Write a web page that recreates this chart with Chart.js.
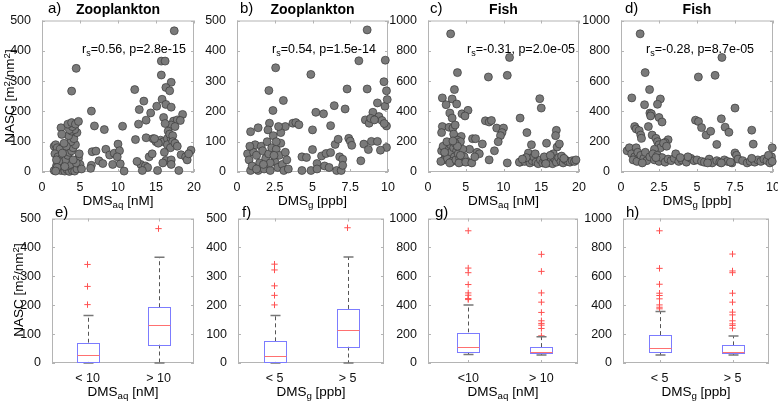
<!DOCTYPE html>
<html>
<head>
<meta charset="utf-8">
<script src="https://cdn.jsdelivr.net/npm/chart.js@4.4.1/dist/chart.umd.min.js"></script>
<style>
  body { margin: 0; background: #fff; width: 778px; height: 406px; position: relative; overflow: hidden;
         font-family: "Liberation Sans", Arial, Helvetica, sans-serif; color: #000; }
  canvas { position: absolute; }
  .t { position: absolute; white-space: nowrap; line-height: 1; }
  .sub { font-size: 0.72em; position: relative; top: 0.32em; }
  .sup { font-size: 0.72em; position: relative; top: -0.45em; }
</style>
</head>
<body>
<script>
// ---- data ----
// a) Zooplankton NASC vs DMSaq [nM]
const zoopAq = [
  [1.6,85],[1.8,90],[2.0,80],[2.4,75],[1.7,60],[2.1,50],[2.6,45],[2.8,30],[1.9,20],[2.2,10],[2.5,5],[1.6,5],
  [3.0,3],[3.3,8],[3.6,2],[4.0,5],[4.3,3],[4.6,10],[3.4,20],[3.7,25],[3.1,40],[3.4,55],[3.6,65],[3.9,70],
  [4.1,80],[4.4,90],[3.8,100],[4.2,110],[4.6,130],[3.5,120],[3.9,135],[4.3,140],[3.2,85],[2.9,95],[4.8,45],
  [5.0,25],[4.9,60],[3.6,140],[4.0,150],[2.2,35],[1.9,40],[4.5,30],[5.2,10],[2.5,146],[2.6,124],[3.4,158],
  [3.9,163],[4.4,158],[4.8,167],[4.5,342],[3.9,267],[2.0,15],[2.7,62],[3.0,18],[4.1,40],[1.8,3],
  [6.5,201],[6.6,67],[7.1,69],[6.9,152],[8.2,140],[7.5,37],[8.0,28],[8.4,75],[8.9,56],[9.3,25],[9.5,62],
  [10.0,92],[10.6,151],[10.2,70],[10.3,27],[10.8,3],[6.5,22],[6.4,12],[9.9,50],
  [12.3,107],[13.7,113],[14.6,110],[15.0,100],[15.6,105],[16.0,100],[16.5,110],[17.0,110],[13.4,234],
  [12.8,206],[12.2,272],[12.7,158],[13.7,171],[14.3,195],[15.1,217],[15.8,240],[15.7,320],[15.7,366],
  [16.2,366],[17.0,296],[16.3,279],[16.8,268],[16.3,223],[17.0,214],[16.0,180],[18.5,190],[17.3,168],
  [17.8,172],[18.2,170],[17.0,155],[17.5,150],[16.6,135],[16.2,160],[16.8,125],[17.2,120],[16.5,90],
  [17.2,100],[16.9,80],[17.5,95],[14.1,50],[18.3,57],[19.6,72],[18.9,50],[19.1,40],[16.3,38],[17.0,40],
  [13.0,25],[13.6,20],[13.9,15],[17.0,25],[15.2,5],[18.0,5],[13.2,5],[14.5,60],[15.3,95],[16.1,65],
  [17.8,85],[19.3,60],[12.5,35],[15.9,30],[14.8,110],[17.4,466]
];
// b) Zooplankton NASC vs DMSg [ppb]
const zoopG = [
  [8.62,469],[2.56,344],[4.89,322],[8.07,367],[9.82,369],[2.11,269],[7.29,274],[8.62,274],[9.73,298],
  [3.07,236],[9.9,268],[9.8,217],[9.95,239],[6.44,219],[7.16,208],[2.38,203],[5.22,197],[5.73,192],
  [9.3,228],[9.0,197],[9.4,183],[9.6,170],[9.9,152],[9.75,160],[8.5,172],[8.75,161],[8.85,177],[9.1,172],
  [2.15,161],[2.05,139],[3.2,150],[1.4,146],[0.9,133],[3.7,161],[3.9,163],[4.1,156],[5.0,139],[6.2,153],
  [6.5,91],[6.7,108],[7.4,111],[7.5,102],[7.6,88],[8.2,37],[8.4,92],[8.7,74],[8.9,101],[9.3,101],[9.9,81],
  [9.5,72],[4.3,50],[4.6,48],[5.0,74],[5.3,28],[5.6,53],[5.9,61],[6.2,64],[6.8,50],[7.0,42],[4.3,5],
  [4.9,5],[5.3,10],[5.8,20],[6.1,15],[6.6,5],[6.9,5],[7.0,22],
  [0.7,60],[0.8,40],[0.9,5],[1.0,20],[1.1,65],[1.2,90],[1.3,55],[1.4,5],[1.5,30],[1.6,85],[1.7,70],
  [1.8,10],[1.9,45],[2.0,100],[2.1,60],[2.2,5],[2.3,80],[2.4,120],[2.5,35],[2.6,75],[2.7,15],[2.8,55],
  [2.9,95],[3.0,25],[3.1,5],[3.2,65],[3.3,40],[2.2,30],[1.3,10],[2.6,100],[1.75,25],[3.4,10],[2.45,55],
  [0.85,85],[2.9,130],[2.75,150]
];
// c) Fish NASC vs DMSaq [nM]
const fishAq = [
  [3.0,912],[10.8,756],[3.9,656],[8.0,627],[10.5,638],[3.5,544],[1.9,489],[3.2,482],[2.4,444],[3.8,449],
  [14.8,484],[15.0,422],[2.9,389],[4.5,384],[5.3,407],[4.9,370],[3.2,356],[12.2,356],[7.6,338],[8.1,330],
  [8.4,340],[9.1,290],[10.0,290],[9.8,260],[9.6,240],[9.3,200],[8.8,140],[1.9,300],[2.8,295],[3.3,290],
  [3.6,310],[3.4,250],[1.8,260],[4.4,235],[3.9,210],[4.3,200],[5.9,220],[6.3,220],[7.2,185],[6.5,130],
  [6.8,120],[5.5,150],[5.2,70],[8.1,80],[10.5,60],[13.1,260],[13.7,180],[12.2,65],[13.3,125],[15.7,190],
  [17.0,275],[16.9,240],[17.1,165],[17.4,185],[16.6,120],
  [1.8,140],[2.0,170],[2.3,110],[2.1,80],[1.7,70],[2.6,90],[2.8,150],[3.0,180],[3.1,130],[3.4,160],
  [3.6,190],[3.8,140],[3.5,100],[3.2,70],[2.9,60],[3.7,80],[4.0,120],[4.2,90],[4.5,70],[4.1,60],[4.8,100],
  [4.6,150],[3.9,170],[2.5,200],[2.2,130],[4.3,110],[3.3,205],[5.0,65],[5.8,60],[6.2,100],
  [12.1,65],[12.8,70],[13.2,90],[13.5,60],[13.8,75],[14.0,100],[14.3,65],[14.6,55],[14.9,80],[15.2,60],
  [15.5,70],[15.8,90],[16.0,60],[16.3,75],[16.5,55],[16.8,85],[17.0,65],[17.3,95],[17.6,70],[17.9,60],
  [18.2,80],[18.5,70],[18.8,65],[19.1,75],[19.4,70],[15.4,100],[14.2,120],[16.2,110],[17.7,105],[13.0,95],
  [15.6,55],[18.0,90],[19.6,80],[12.5,85]
];
// d) Fish NASC vs DMSg [ppb]
const fishG = [
  [1.26,912],[6.64,756],[1.59,656],[5.09,627],[6.19,638],[1.88,544],[0.71,489],[2.59,482],[1.55,444],
  [2.4,447],[7.5,422],[1.9,389],[2.0,384],[1.95,370],[2.5,360],[2.7,330],[4.9,342],[5.1,333],[5.3,293],
  [5.6,244],[5.9,269],[6.6,351],[6.85,296],[7.1,262],[6.3,182],[7.5,126],[7.6,110],[8.6,276],[8.7,184],
  [9.95,160],[0.9,300],[1.0,284],[1.2,273],[1.3,244],[1.35,222],[1.8,300],[2.05,244],[2.3,222],[3.1,213],
  [2.9,195],[2.4,200],[2.5,180],[2.6,160],[2.8,190],[3.0,170],[2.2,150],
  [0.4,140],[0.55,160],[0.7,120],[0.9,100],[1.0,160],[1.1,130],[0.8,80],[1.05,70],[1.3,110],[1.5,90],
  [1.6,130],[1.7,75],[1.9,100],[2.1,120],[2.2,80],[2.4,110],[2.5,70],[2.7,95],[2.9,65],[3.1,85],[3.3,75],
  [3.5,90],[3.8,70],[4.0,80],[4.3,65],[4.6,90],[4.8,75],[3.6,120],[2.3,95],[1.4,60],
  [5.0,80],[5.3,70],[5.5,65],[5.8,85],[6.0,60],[6.3,75],[6.5,65],[6.8,80],[7.0,70],[7.3,60],[7.7,85],
  [8.0,75],[8.3,60],[8.5,70],[8.8,65],[9.0,80],[9.2,70],[9.4,85],[9.6,75],[9.8,60],[9.9,100],[8.6,90],
  [9.7,110],[7.2,65],[5.7,60],[6.6,60],[4.4,100],[3.9,95],[9.95,70]
];

// box plots: [lower whisker, q1, median, q3, upper whisker] per group
const boxE = [[0, 4, 27, 70, 164], [0, 64, 131, 193, 366]];
const boxF = [[0, 4, 25, 75, 164], [0, 57, 114, 187, 367]];
const boxG = [[59, 76, 108, 211, 402], [55, 67, 76, 110, 181]];
const boxH = [[55, 76, 106, 193, 356], [55, 69, 76, 122, 186]];
// outliers per group
const outE = [[341, 265, 202], [465]];
const outF = [[342, 322, 267, 234, 201], [468]];
const outG = [[915, 657, 625, 543, 485, 469, 446, 439], [752, 634, 485, 421, 350, 292, 274, 262, 239, 188]];
const outH = [[915, 655, 545, 483, 467, 444, 402, 386, 375], [754, 637, 625, 483, 421, 352, 333, 292, 271, 260, 241]];

const labelsAq = ['< 10', '> 10'];
const labelsAqG = ['<10', '> 10'];
const labelsG = ['< 5', '> 5'];
const ticksX20 = [0, 5, 10, 15, 20];
const ticksX10 = [0, 2.5, 5, 7.5, 10];

// ---- drawing ----
const FONT = '"Liberation Sans", Arial, Helvetica, sans-serif';
const AXIS = '#b4b4b4';
const Lm = 42, Tm = 10, Rm = 12, Bm = 24;

const frame = {
  id: 'frame',
  beforeDatasetsDraw(chart) {
    const { ctx, chartArea: a, scales } = chart;
    ctx.save();
    ctx.strokeStyle = AXIS;
    ctx.lineWidth = 1;
    ctx.strokeRect(a.left + 0.5, a.top + 0.5, a.right - a.left - 1, a.bottom - a.top - 1);
    ctx.beginPath();
    scales.x.ticks.forEach(t => {
      const x = Math.round(scales.x.getPixelForValue(t.value)) + 0.5;
      ctx.moveTo(x, a.bottom); ctx.lineTo(x, a.bottom - 3);
      ctx.moveTo(x, a.top); ctx.lineTo(x, a.top + 3);
    });
    scales.y.ticks.forEach(t => {
      const y = Math.round(scales.y.getPixelForValue(t.value)) + 0.5;
      ctx.moveTo(a.left, y); ctx.lineTo(a.left + 3, y);
      ctx.moveTo(a.right, y); ctx.lineTo(a.right - 3, y);
    });
    ctx.stroke();
    ctx.restore();
  }
};

const boxDraw = {
  id: 'boxDraw',
  afterDatasetsDraw(chart, args, opts) {
    if (!opts.boxes) return;
    const { ctx, scales: { x, y } } = chart;
    ctx.save();
    opts.boxes.forEach((b, i) => {
      const cx = Math.round(x.getPixelForValue(i + 1)) + 0.5;
      const [lo, q1, med, q3, hi] = b.map(v => y.getPixelForValue(v));
      const hw = 11, cw = 5;
      // whiskers
      ctx.strokeStyle = '#555';
      ctx.lineWidth = 1;
      ctx.setLineDash([4, 3]);
      ctx.beginPath();
      ctx.moveTo(cx, q3); ctx.lineTo(cx, hi);
      ctx.moveTo(cx, q1); ctx.lineTo(cx, lo);
      ctx.stroke();
      ctx.setLineDash([]);
      ctx.strokeStyle = '#777';
      ctx.lineWidth = 1.5;
      ctx.beginPath();
      ctx.moveTo(cx - cw, hi); ctx.lineTo(cx + cw, hi);
      ctx.moveTo(cx - cw, lo); ctx.lineTo(cx + cw, lo);
      ctx.stroke();
      // box
      ctx.lineWidth = 1;
      ctx.fillStyle = '#fff';
      ctx.fillRect(cx - hw, q3, 2 * hw, q1 - q3);
      ctx.strokeStyle = '#7c7cff';
      ctx.strokeRect(cx - hw, Math.round(q3) + 0.5, 2 * hw, Math.round(q1) - Math.round(q3));
      // median
      ctx.strokeStyle = '#ff7070';
      ctx.beginPath();
      ctx.moveTo(cx - hw, Math.round(med) + 0.5); ctx.lineTo(cx + hw, Math.round(med) + 0.5);
      ctx.stroke();
    });
    ctx.restore();
  }
};

function addText(html, x, base, size, opt = {}) {
  const d = document.createElement('div');
  d.className = 't';
  d.innerHTML = html;
  d.style.fontSize = size + 'px';
  d.style.left = x + 'px';
  d.style.top = (base - 0.8465 * size) + 'px';
  if (opt.bold) d.style.fontWeight = 'bold';
  if (opt.center) d.style.transform = 'translateX(-50%)';
  if (opt.rotate) {
    d.style.top = base + 'px';
    d.style.transform = 'translate(-50%,-50%) rotate(-90deg)';
  }
  document.body.appendChild(d);
}

function makePanel(p) {
  const c = document.createElement('canvas');
  const w = p.r - p.l + Lm + Rm, h = p.b - p.t + Tm + Bm;
  c.width = w; c.height = h;
  c.style.width = w + 'px'; c.style.height = h + 'px';
  c.style.left = (p.l - Lm) + 'px'; c.style.top = (p.t - Tm) + 'px';
  document.body.appendChild(c);

  const tickFont = { family: FONT, size: 12.5 };
  const datasets = [];
  if (p.points) {
    datasets.push({
      data: p.points.map(([x, y]) => ({ x, y })),
      pointRadius: 4, pointBackgroundColor: '#7a7a7a', pointBorderColor: '#3a3a3a',
      pointBorderWidth: 0.7, clip: false
    });
  }
  if (p.outliers) {
    datasets.push({
      data: p.outliers.flatMap((g, i) => g.map(v => ({ x: i + 1, y: v }))),
      pointStyle: 'cross', pointRadius: 3.2, borderColor: '#ff5050', pointBorderWidth: 1, clip: false
    });
  }

  new Chart(c, {
    type: 'scatter',
    data: { datasets },
    options: {
      responsive: false, animation: false, devicePixelRatio: 1,
      layout: { padding: { top: Tm, right: Rm, left: 0, bottom: 0 } },
      plugins: { legend: { display: false }, tooltip: { enabled: false }, boxDraw: { boxes: p.boxes } },
      scales: {
        x: {
          type: 'linear', min: p.xmin, max: p.xmax,
          afterFit: s => { s.height = Bm; },
          afterBuildTicks: s => { s.ticks = p.xticks.map(v => ({ value: v })); },
          grid: { display: false }, border: { display: false },
          ticks: {
            font: tickFont, color: '#111', padding: 0, maxRotation: 0, autoSkip: false,
            callback: v => p.xlabels ? p.xlabels[v - 1] : String(v)
          }
        },
        y: {
          type: 'linear', min: 0, max: p.ymax,
          afterFit: s => { s.width = Lm; },
          grid: { display: false }, border: { display: false },
          ticks: { font: tickFont, color: '#111', padding: 3, stepSize: p.ymax / 5, callback: v => String(v) }
        }
      }
    },
    plugins: [frame, boxDraw]
  });
}

const NASC = 'NASC [m<span class="sup">2</span>/nm<span class="sup">2</span>]';
const DMSaq = 'DMS<span class="sub">aq</span> [nM]';
const DMSg = 'DMS<span class="sub">g</span> [ppb]';

const topRow = [
  { l: 42, r: 194, t: 20, b: 172, xmin: 0, xmax: 20, xticks: ticksX20, ymax: 500, points: zoopAq,
    letter: 'a)', lx: 48, title: 'Zooplankton', stat: 'r<span class="sub">s</span>=0.56, p=2.8e-15', sx: 82, xl: DMSaq },
  { l: 237, r: 388, t: 20, b: 172, xmin: 0, xmax: 10, xticks: ticksX10, ymax: 500, points: zoopG,
    letter: 'b)', lx: 240, title: 'Zooplankton', stat: 'r<span class="sub">s</span>=0.54, p=1.5e-14', sx: 272, xl: DMSg },
  { l: 428, r: 579, t: 20, b: 172, xmin: 0, xmax: 20, xticks: ticksX20, ymax: 1000, points: fishAq,
    letter: 'c)', lx: 430, title: 'Fish', stat: 'r<span class="sub">s</span>=-0.31, p=2.0e-05', sx: 467, xl: DMSaq },
  { l: 621, r: 773, t: 20, b: 172, xmin: 0, xmax: 10, xticks: ticksX10, ymax: 1000, points: fishG,
    letter: 'd)', lx: 625, title: 'Fish', stat: 'r<span class="sub">s</span>=-0.28, p=8.7e-05', sx: 646, xl: DMSg }
];
const bottomRow = [
  { l: 52, r: 194, t: 218, b: 363, xmin: 0.5, xmax: 2.5, xticks: [1, 2], xlabels: labelsAq, ymax: 500,
    boxes: boxE, outliers: outE, letter: 'e)', lx: 55, xl: DMSaq },
  { l: 238, r: 384, t: 218, b: 363, xmin: 0.5, xmax: 2.5, xticks: [1, 2], xlabels: labelsG, ymax: 500,
    boxes: boxF, outliers: outF, letter: 'f)', lx: 242, xl: DMSg },
  { l: 428, r: 578, t: 218, b: 363, xmin: 0.45, xmax: 2.5, xticks: [1, 2], xlabels: labelsAqG, ymax: 1000,
    boxes: boxG, outliers: outG, letter: 'g)', lx: 435, xl: DMSaq },
  { l: 623, r: 769, t: 218, b: 363, xmin: 0.5, xmax: 2.5, xticks: [1, 2], xlabels: labelsG, ymax: 1000,
    boxes: boxH, outliers: outH, letter: 'h)', lx: 626, xl: DMSg }
];

topRow.forEach(p => {
  makePanel(p);
  const cx = (p.l + p.r) / 2;
  addText(p.letter, p.lx, 12.5, 15);
  addText(p.title, cx, 13.5, 14, { bold: true, center: true });
  addText(p.stat, p.sx, 54, 12.5);
  addText(p.xl, cx, 205, 13.5, { center: true });
});
bottomRow.forEach(p => {
  makePanel(p);
  const cx = (p.l + p.r) / 2;
  addText(p.letter, p.lx, 216.5, 15);
  addText(p.xl, cx, 396, 13.5, { center: true });
});
addText(NASC, 10, 96, 13.5, { rotate: true });
addText(NASC, 19, 290, 13.5, { rotate: true });
</script>
</body>
</html>
